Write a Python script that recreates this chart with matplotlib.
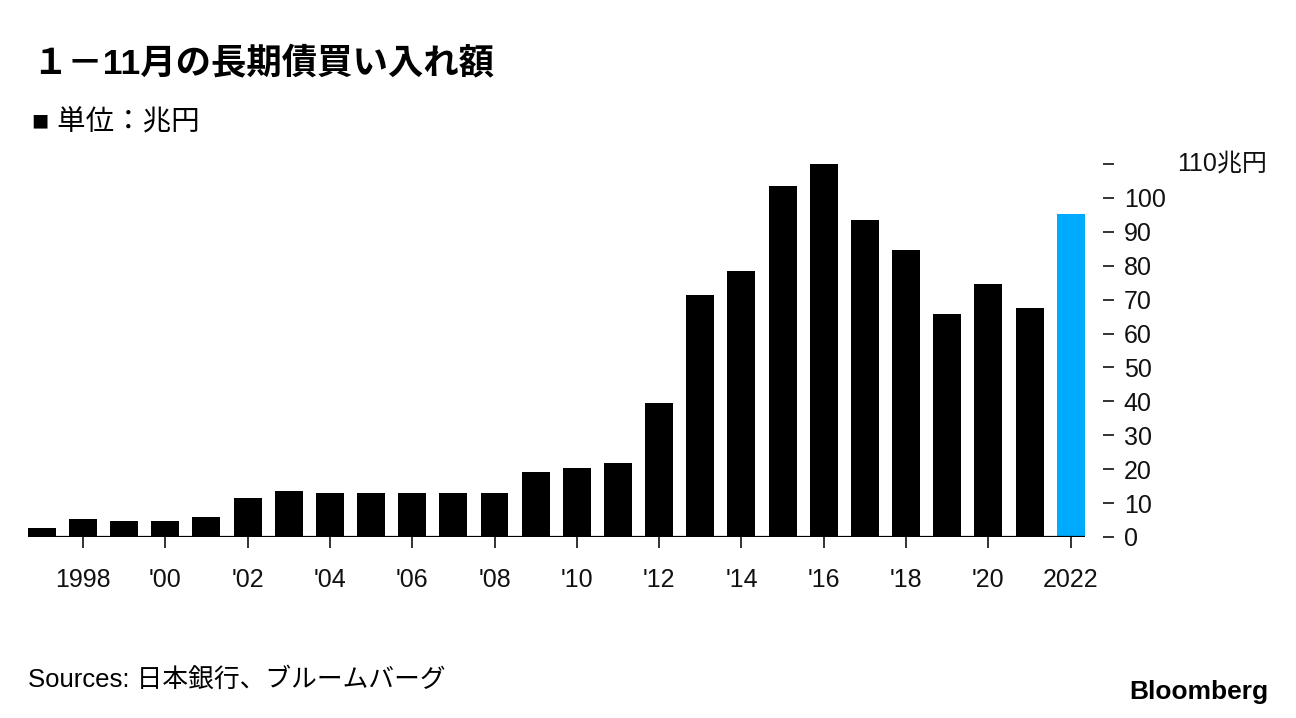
import matplotlib
matplotlib.use("Agg")
import matplotlib.pyplot as plt
import matplotlib.transforms as mtransforms

plt.rcParams["font.family"] = ["Liberation Sans", "Noto Sans CJK JP", "DejaVu Sans"]

# 1-11月の長期債買い入れ額 (兆円)
years = list(range(1997, 2023))
values = [2.7, 5.3, 4.7, 4.7, 5.9, 11.5, 13.6, 13.0, 13.0, 13.0, 13.0, 13.0,
          19.2, 20.4, 21.8, 39.5, 71.4, 78.5, 103.5, 110.0, 93.5, 84.7,
          65.8, 74.6, 67.6, 95.3]
xtick_years = list(range(1998, 2023, 2))
xtick_labels = ["1998", "'00", "'02", "'04", "'06", "'08", "'10", "'12",
                "'14", "'16", "'18", "'20", "2022"]
ytick_vals = list(range(0, 101, 10))

BLACK = "#000000"
BLUE = "#00aaff"
TXT = "#111111"
bar_w = 0.68

fig = plt.figure(figsize=(12.96, 7.18), dpi=100)
ax = fig.add_axes([0.0214, 0.2521, 0.8156, 0.5195])

colors = [BLUE if y == years[-1] else BLACK for y in years]
ax.bar(years, values, width=bar_w, color=colors, zorder=2)

# baseline under the bars
ax.plot([years[0] - bar_w / 2, years[-1] + bar_w / 2], [0, 0],
        color=BLACK, lw=1.6, zorder=3, solid_capstyle="butt")

ax.set_xlim(years[0] - bar_w / 2, years[-1] + bar_w / 2)
ax.set_ylim(0, 110)

for s in ["top", "left", "bottom"]:
    ax.spines[s].set_visible(False)
ax.spines["right"].set_position(("outward", 13))
ax.spines["right"].set_color("none")

ax.yaxis.tick_right()
ax.set_yticks(ytick_vals + [110])
ax.set_yticklabels([str(v) for v in ytick_vals] + [""])
ax.tick_params(axis="y", length=8, width=1.2, pad=7, labelsize=18,
               colors=TXT)

ax.set_xticks(xtick_years)
ax.set_xticklabels(xtick_labels)
ax.tick_params(axis="x", length=8, width=1.2, pad=14, labelsize=18,
               colors=TXT)

# top label with the unit
trans = mtransforms.blended_transform_factory(fig.transFigure, ax.transData)
ax.text(1267 / 1296, 110, "110兆円", transform=trans, ha="right", va="center",
        fontsize=18, color=TXT)

fig.text(32 / 1296, 1 - 63 / 718, "１－11月の長期債買い入れ額", fontsize=25.5,
         fontweight="bold", ha="left", va="center")
fig.text(32 / 1296, 1 - 123 / 718, "■ 単位：兆円", fontsize=20.5,
         ha="left", va="center")
fig.text(28 / 1296, 1 - 679 / 718, "Sources: 日本銀行、ブルームバーグ",
         fontsize=18.5, ha="left", va="center")
fig.text(1268 / 1296, 1 - 692 / 718, "Bloomberg", fontsize=19,
         fontweight="bold", ha="right", va="center",
         family=["Liberation Sans Narrow", "Liberation Sans"])

fig.savefig("out.png", dpi=100)
plt.close(fig)
